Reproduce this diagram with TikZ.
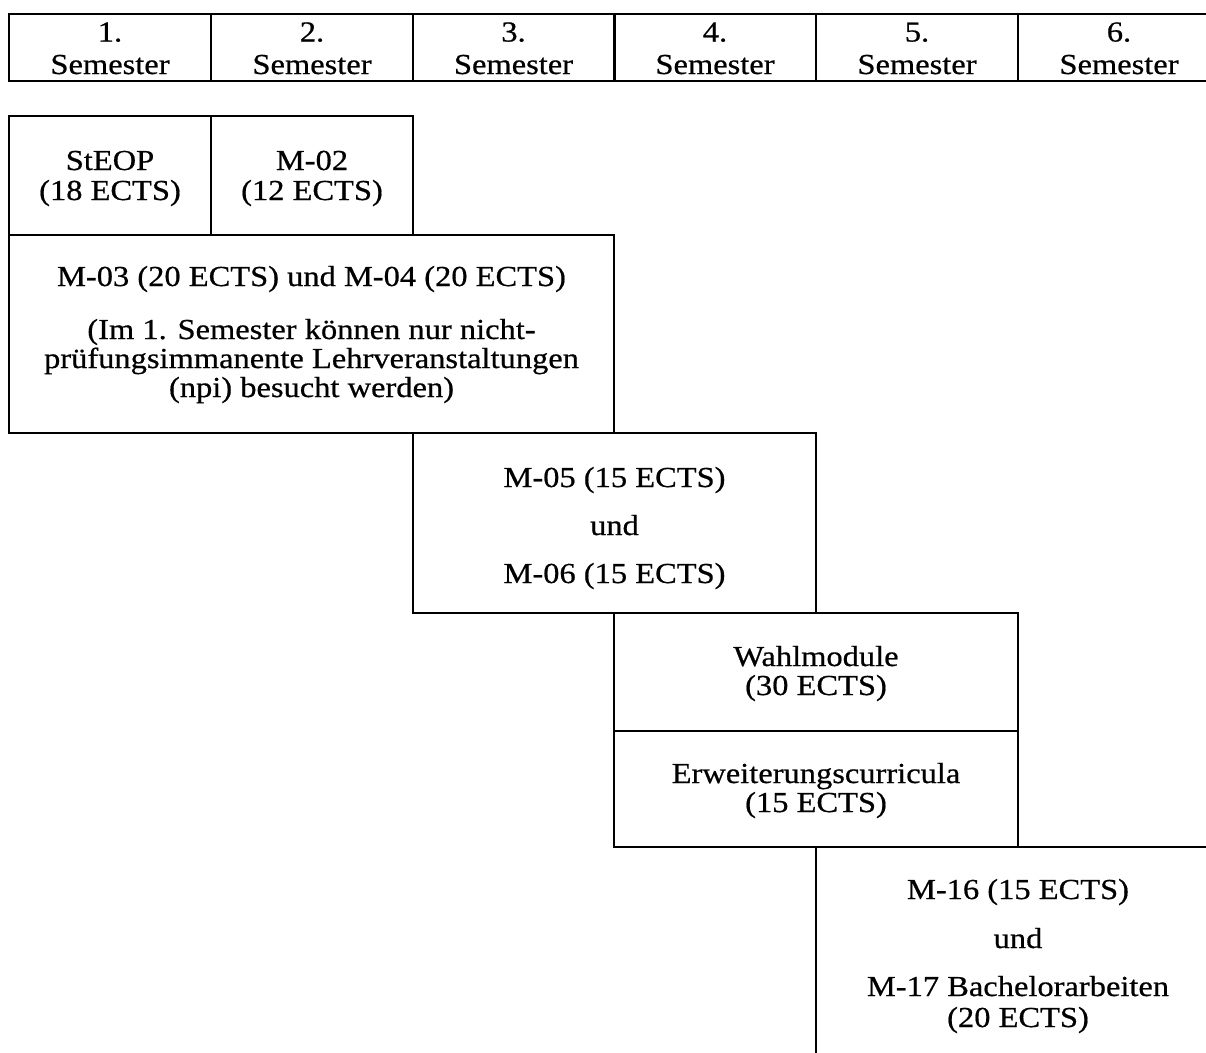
\documentclass[tikz,border=0pt]{standalone}
\usepackage{fontspec}
\setmainfont[FakeStretch=1.12,FakeBold=0.6]{Liberation Serif}
\begin{document}
\begin{tikzpicture}[x=1pt,y=-1pt,
  cell/.style={draw, line width=2pt, rectangle, inner sep=0pt},
  txt/.style={anchor=base, inner sep=0pt, font=\fontsize{29}{32}\selectfont}]
\useasboundingbox (0,0) rectangle (1206,1052);
\clip (0,0) rectangle (1206,1052);
% header row
\foreach \i/\cx in {1/110,2/312,3/513.5,4/715,5/917,6/1119}{
  \node[cell, minimum width=202pt, minimum height=67pt] (h\i) at (\cx,47.5) {};
  \node[txt] (h\i a) at (\cx,41.5) {\i.};
  \node[txt] (h\i b) at (\cx,74) {Semester};
}
% boxes
\node[cell, minimum width=202pt, minimum height=119pt] (steop) at (110,175.5) {};
\node[cell, minimum width=202pt, minimum height=119pt] (m02) at (312,175.5) {};
\node[cell, minimum width=605pt, minimum height=198pt] (m03) at (311.5,334) {};
\node[cell, minimum width=403pt, minimum height=180pt] (m05) at (614.5,523) {};
\node[cell, minimum width=404pt, minimum height=118pt] (wahl) at (816,672) {};
\node[cell, minimum width=404pt, minimum height=116pt] (erw) at (816,789) {};
\node[cell, minimum width=404pt, minimum height=215pt] (m16) at (1018,954.5) {};
% texts
\node[txt] (t1) at (110,170) {StEOP};
\node[txt] (t2) at (110,200) {(18 ECTS)};
\node[txt] (t3) at (312,170) {M-02};
\node[txt] (t4) at (312,200) {(12 ECTS)};
\node[txt] (t5) at (311.5,286) {M-03 (20 ECTS) und M-04 (20 ECTS)};
\node[txt] (t6) at (311.5,339) {(Im 1. Semester können nur nicht-};
\node[txt] (t7) at (311.5,368) {prüfungsimmanente Lehrveranstaltungen};
\node[txt] (t8) at (311.5,397) {(npi) besucht werden)};
\node[txt] (t9) at (614.5,487) {M-05 (15 ECTS)};
\node[txt] (t10) at (614.5,535) {und};
\node[txt] (t11) at (614.5,583) {M-06 (15 ECTS)};
\node[txt] (t12) at (816,666) {Wahlmodule};
\node[txt] (t13) at (816,695) {(30 ECTS)};
\node[txt] (t14) at (816,783) {Erweiterungscurricula};
\node[txt] (t15) at (816,812) {(15 ECTS)};
\node[txt] (t16) at (1018,899) {M-16 (15 ECTS)};
\node[txt] (t17) at (1018,948) {und};
\node[txt] (t18) at (1018,996) {M-17 Bachelorarbeiten};
\node[txt] (t19) at (1018,1027) {(20 ECTS)};
\end{tikzpicture}
\end{document}
